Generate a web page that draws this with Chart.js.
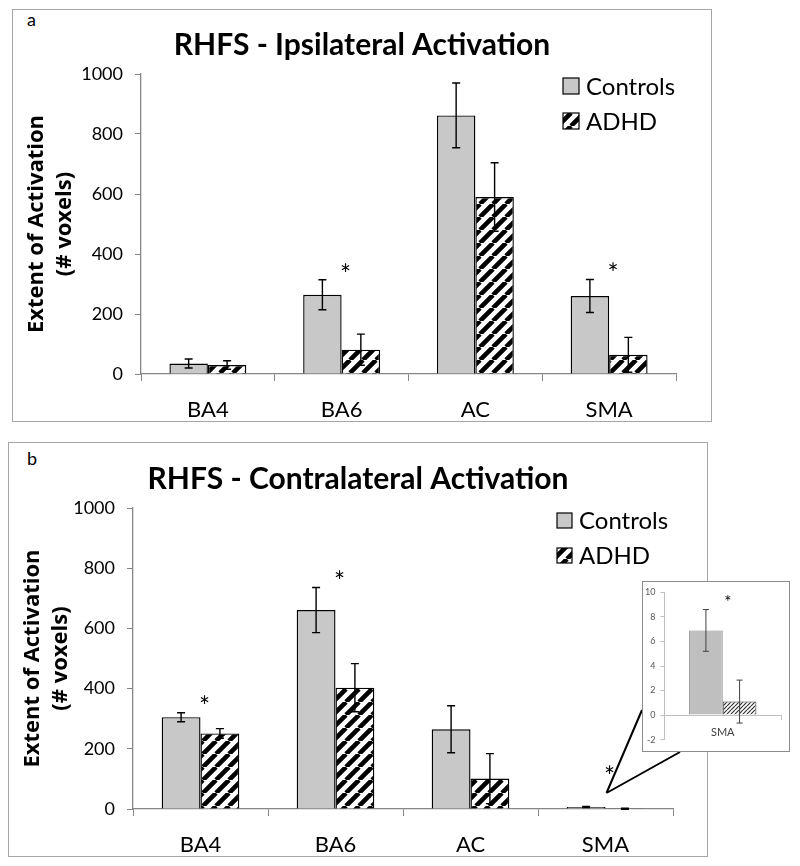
<!DOCTYPE html>
<html>
<head>
<meta charset="utf-8">
<script src="https://cdn.jsdelivr.net/npm/chart.js@4.4.1/dist/chart.umd.min.js"></script>
<style>
  body { margin: 0; width: 800px; height: 866px; background: #fff; position: relative; overflow: hidden; }
  .frame { position: absolute; border: 1.5px solid #a6a6a6; box-sizing: border-box; }
  canvas { position: absolute; }
  .tag { position: absolute; font: 18px Lato, sans-serif; color: #000; line-height: 1; }
  #insetBox { position: absolute; left: 642px; top: 581px; width: 148px; height: 171px;
              border: 1.5px solid #8c8c8c; box-sizing: border-box; background: #fff; }
  #insetBox canvas { left: 0; top: 0; }
</style>
</head>
<body>
<div class="frame" style="left:12px;top:9px;width:700px;height:413px"></div>
<div class="frame" style="left:8px;top:442px;width:700px;height:415px"></div>
<div class="tag" style="left:27px;top:10px">a</div>
<div class="tag" style="left:27px;top:449px">b</div>
<canvas id="chartA" width="700" height="413" style="left:12px;top:9px"></canvas>
<canvas id="chartB" width="700" height="415" style="left:8px;top:442px"></canvas>
<div id="insetBox"><canvas id="chartInset" width="145" height="168"></canvas></div>

<script>
// categories
const regions = ["BA4", "BA6", "AC", "SMA"];
const groups = ["Controls", "ADHD"];

// a - ipsilateral activation (# voxels), mean and error
const ipsiControls = [35, 264, 862, 260];
const ipsiControlsErr = [15, 50, 108, 55];
const ipsiAdhd = [30, 81, 590, 64];
const ipsiAdhdErr = [14, 52, 114, 58];
const ipsiSig = [false, true, false, true];

// b - contralateral activation (# voxels), mean and error
const contraControls = [305, 661, 265, 6.9];
const contraControlsErr = [15, 75, 78, 1.7];
const contraAdhd = [251, 403, 101, 1.1];
const contraAdhdErr = [16, 80, 83, 1.75];
const contraSig = [true, true, false, true];

// axis ticks
const mainTicks = { min: 0, max: 1000, step: 200 };
const insetTicks = { min: -2, max: 10, step: 2 };

const GREY_FILL = "#c8c8c8";
const AXIS = "#868686";

// diagonal stripes for the ADHD bars
function stripes(size, lw, color) {
  const c = document.createElement("canvas");
  c.width = size; c.height = size;
  const g = c.getContext("2d");
  g.fillStyle = "#fff";
  g.fillRect(0, 0, size, size);
  g.strokeStyle = color;
  g.lineWidth = lw;
  g.beginPath();
  for (let k = -1; k <= 1; k++) {
    g.moveTo(k * size, size);
    g.lineTo(k * size + size, 0);
  }
  g.stroke();
  return g.createPattern(c, "repeat");
}

// error bars, asterisks, legend and zoom lines
const extras = {
  id: "extras",
  afterDatasetsDraw(chart, args, o) {
    const ctx = chart.ctx, xs = chart.scales.x, ys = chart.scales.y;
    ctx.save();
    ctx.strokeStyle = o.errColor;
    ctx.lineWidth = o.errWidth;
    o.errs.forEach((err, i) => {
      const vals = chart.data.datasets[i].data;
      chart.getDatasetMeta(i).data.forEach((bar, j) => {
        const top = ys.getPixelForValue(vals[j] + err[j]);
        const bot = ys.getPixelForValue(vals[j] - err[j]);
        ctx.beginPath();
        ctx.moveTo(bar.x, top); ctx.lineTo(bar.x, bot);
        ctx.moveTo(bar.x - o.cap, top); ctx.lineTo(bar.x + o.cap, top);
        ctx.moveTo(bar.x - o.cap, bot); ctx.lineTo(bar.x + o.cap, bot);
        ctx.stroke();
      });
    });

    // significance marks
    ctx.fillStyle = "#000";
    ctx.font = o.starSize + "px Lato";
    ctx.textAlign = "center";
    ctx.textBaseline = "alphabetic";
    o.sig.forEach((s, j) => {
      if (!s) return;
      let top = Infinity;
      o.errs.forEach((err, i) => {
        const v = chart.data.datasets[i].data[j];
        top = Math.min(top, ys.getPixelForValue(v + err[j]));
      });
      const y = Math.min(top - o.starGap, ys.getPixelForValue(0) - o.starMin);
      const x = xs.getPixelForValue(j) + o.starDx;
      ctx.fillText("*", x, y + 0.53 * o.starSize);
    });

    // legend
    if (o.legend) {
      const L = o.legend;
      ctx.font = L.font + "px Lato";
      ctx.textAlign = "left";
      ctx.textBaseline = "middle";
      chart.data.datasets.forEach((ds, i) => {
        const y = L.y + i * L.gap;
        ctx.fillStyle = ds.backgroundColor;
        ctx.fillRect(L.x, y, L.size, L.size);
        ctx.strokeStyle = "#000";
        ctx.lineWidth = 1.2;
        ctx.strokeRect(L.x, y, L.size, L.size);
        ctx.fillStyle = "#000";
        ctx.fillText(ds.label, L.x + L.size + 7, y + L.size / 2 + 1);
      });
    }

    // lines pointing to the inset
    if (o.zoomLines) {
      const z = o.zoomLines;
      const x0 = xs.getPixelForValue(z.index) + 1;
      const y0 = ys.getPixelForValue(0) - 16;
      ctx.strokeStyle = "#000";
      ctx.lineWidth = 2;
      ctx.beginPath();
      z.targets.forEach(t => { ctx.moveTo(x0, y0); ctx.lineTo(t[0], t[1]); });
      ctx.stroke();
    }
    ctx.restore();
  }
};

function mainChart(id, cfg) {
  const ctx = document.getElementById(id).getContext("2d");
  return new Chart(ctx, {
    type: "bar",
    data: {
      labels: regions,
      datasets: [
        { label: groups[0], data: cfg.controls, backgroundColor: GREY_FILL, borderColor: "#000", borderWidth: 1.4,
          categoryPercentage: 0.575, barPercentage: 1 },
        { label: groups[1], data: cfg.adhd, backgroundColor: stripes(13, 4.6, "#000"), borderColor: "#000", borderWidth: 1.4,
          categoryPercentage: 0.575, barPercentage: 1 }
      ]
    },
    options: {
      responsive: false,
      animation: false,
      layout: { padding: 0 },
      plugins: {
        legend: { display: false },
        tooltip: { enabled: false },
        title: {
          display: true, text: cfg.title, color: "#000",
          font: { family: "Lato", size: 30, weight: "bold" },
          padding: { top: cfg.titleTop, bottom: cfg.titleBottom }
        },
        extras: {
          errs: [cfg.controlsErr, cfg.adhdErr], errColor: "#000", errWidth: 1.4, cap: 4,
          sig: cfg.sig, starSize: 26, starGap: 10, starMin: 37, starDx: 4,
          legend: cfg.legend, zoomLines: cfg.zoomLines
        }
      },
      scales: {
        x: {
          grid: { display: true, drawOnChartArea: false, tickLength: 7, color: AXIS, offset: true },
          border: { color: AXIS, width: 1.3 },
          ticks: { color: "#000", font: { family: "Lato", size: 22 }, padding: 16 },
          afterFit: s => { s.height = 48; }
        },
        y: {
          min: mainTicks.min, max: mainTicks.max,
          ticks: { stepSize: mainTicks.step, color: "#000", font: { family: "Lato", size: 18 }, padding: 12,
                   callback: v => String(v) },
          grid: { drawOnChartArea: false, tickLength: 6, color: AXIS },
          border: { color: AXIS, width: 1.3 },
          title: {
            display: true, text: ["Extent of Activation", "(# voxels)"], color: "#000",
            font: { family: "Open Sans", size: 22, weight: "bold", lineHeight: 1.3 },
            padding: { top: 10, bottom: 0 }
          },
          afterFit: s => { s.width = cfg.yWidth; }
        },
        // empty right-hand gutter so the title stays centred on the frame
        gutter: {
          type: "linear", position: "right", display: true,
          grid: { display: false }, border: { display: false }, ticks: { display: false },
          afterFit: s => { s.width = cfg.padRight; }
        }
      }
    },
    plugins: [extras]
  });
}

mainChart("chartA", {
  title: "RHFS - Ipsilateral Activation",
  controls: ipsiControls, controlsErr: ipsiControlsErr,
  adhd: ipsiAdhd, adhdErr: ipsiAdhdErr, sig: ipsiSig,
  yWidth: 129, padRight: 36, titleTop: 18, titleBottom: 11,
  legend: { x: 551, y: 69, size: 16, gap: 35, font: 24 }
});

// inset box corners in chart b canvas coordinates (canvas at 8,442)
const insetLeft = 642 - 8, insetTop = 581 - 442, insetH = 171;
mainChart("chartB", {
  title: "RHFS - Contralateral Activation",
  controls: contraControls, controlsErr: contraControlsErr,
  adhd: contraAdhd, adhdErr: contraAdhdErr, sig: contraSig,
  yWidth: 125, padRight: 35, titleTop: 19, titleBottom: 11,
  legend: { x: 549, y: 71, size: 15, gap: 35, font: 24 },
  zoomLines: { index: 3, targets: [[insetLeft, insetTop + 129], [insetLeft + 38, insetTop + insetH]] }
});

// inset: SMA on its own scale
new Chart(document.getElementById("chartInset").getContext("2d"), {
  type: "bar",
  data: {
    labels: [regions[3]],
    datasets: [
      { label: groups[0], data: [contraControls[3]], backgroundColor: "#bfbfbf", borderColor: "#8c8c8c", borderWidth: 1,
        categoryPercentage: 0.578, barPercentage: 1 },
      { label: groups[1], data: [contraAdhd[3]], backgroundColor: stripes(4, 1.2, "#333"), borderColor: "#333", borderWidth: 1,
        categoryPercentage: 0.578, barPercentage: 1 }
    ]
  },
  options: {
    responsive: false,
    animation: false,
    layout: { padding: { left: 0, right: 7, top: 8, bottom: 6 } },
    plugins: {
      legend: { display: false },
      tooltip: { enabled: false },
      extras: {
        errs: [[contraControlsErr[3]], [contraAdhdErr[3]]], errColor: "#404040", errWidth: 1, cap: 3,
        sig: [contraSig[3]], starSize: 17, starGap: 11, starMin: 0, starDx: 5
      }
    },
    scales: {
      x: {
        position: { y: 0 },
        grid: { display: true, drawOnChartArea: false, tickLength: 4, color: "#bfbfbf", offset: true },
        border: { color: "#bfbfbf", width: 1 },
        ticks: { color: "#404040", font: { family: "Lato", size: 11 }, padding: 7 }
      },
      y: {
        min: insetTicks.min, max: insetTicks.max,
        ticks: { stepSize: insetTicks.step, color: "#595959", font: { family: "Lato", size: 9 }, padding: 5 },
        grid: { drawOnChartArea: false, tickLength: 4, color: "#bfbfbf" },
        border: { color: "#bfbfbf", width: 1 },
        afterFit: s => { s.width = 21.5; }
      }
    }
  },
  plugins: [extras]
});
</script>
</body>
</html>
